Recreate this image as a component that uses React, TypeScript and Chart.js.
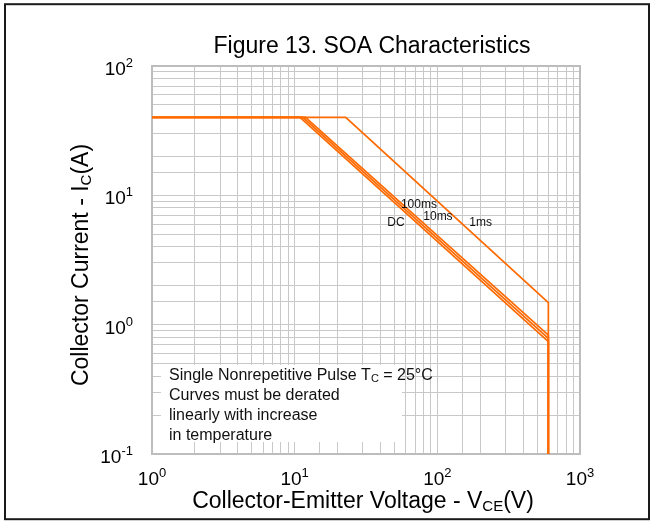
import React, { useEffect, useRef } from 'react';
import { Chart, registerables } from 'chart.js';

Chart.register(...registerables);

// ---- data ----
const CHART_TITLE = 'Figure 13. SOA Characteristics';
const X_TICK_EXPONENTS = [0, 1, 2, 3];
const Y_TICK_EXPONENTS = [-1, 0, 1, 2];
const SERIES_LABELS = ['DC', '100ms', '10ms', '1ms'];
const VCE_DC = [1, 10.9, 600, 600];
const IC_DC = [40, 40, 0.74, 0.1];
const VCE_100MS = [1, 11.4, 600, 600];
const IC_100MS = [40, 40, 0.785, 0.1];
const VCE_10MS = [1, 11.9, 600, 600];
const IC_10MS = [40, 40, 0.83, 0.1];
const VCE_1MS = [1, 22.8, 600, 600];
const IC_1MS = [40, 40, 1.48, 0.1];
const NOTE_LINES = [
  'Curves must be derated',
  'linearly with increase',
  'in temperature',
];

const FONT = '"Liberation Sans", Arial, Helvetica, sans-serif';
const ORANGE = '#ff6a00';

type Part = { t: string; sub?: boolean; sup?: boolean };

function richWidth(ctx: CanvasRenderingContext2D, parts: Part[], size: number, small: number) {
  let w = 0;
  for (const p of parts) {
    ctx.font = `${p.sub || p.sup ? small : size}px ${FONT}`;
    w += ctx.measureText(p.t).width;
  }
  return w;
}

function drawRich(
  ctx: CanvasRenderingContext2D,
  parts: Part[],
  x: number,
  y: number,
  align: 'left' | 'center' | 'right',
  size: number,
  small: number,
  raise: number,
  drop: number,
) {
  const w = richWidth(ctx, parts, size, small);
  let cx = align === 'left' ? x : align === 'center' ? x - w / 2 : x - w;
  ctx.textAlign = 'left';
  ctx.textBaseline = 'alphabetic';
  for (const p of parts) {
    ctx.font = `${p.sub || p.sup ? small : size}px ${FONT}`;
    const dy = p.sup ? -raise : p.sub ? drop : 0;
    ctx.fillText(p.t, cx, y + dy);
    cx += ctx.measureText(p.t).width;
  }
}

const labelAnchors: Record<string, [number, number]> = {
  DC: [51.3, 6.19],
  '100ms': [74.3, 8.43],
  '10ms': [101, 6.84],
  '1ms': [201, 6.15],
};

const decorPlugin = {
  id: 'decor',
  beforeDraw(chart: any) {
    const ctx: CanvasRenderingContext2D = chart.ctx;
    ctx.save();
    ctx.fillStyle = '#ffffff';
    ctx.fillRect(0, 0, chart.width, chart.height);
    ctx.strokeStyle = '#1a1a1a';
    ctx.lineWidth = 2;
    ctx.strokeRect(5, 4.2, 644, 515);
    ctx.restore();
  },
  beforeDatasetsDraw(chart: any) {
    const ctx: CanvasRenderingContext2D = chart.ctx;
    const { left, right, top, bottom } = chart.chartArea;
    ctx.save();
    // plot frame
    ctx.strokeStyle = '#bdbdbd';
    ctx.lineWidth = 2;
    ctx.strokeRect(left, top, right - left, bottom - top);
    // note box
    const bx0 = left + 9;
    const bx1 = left + 250;
    const by0 = top + 299;
    const by1 = top + 376;
    ctx.fillStyle = '#ffffff';
    ctx.fillRect(bx0, by0, bx1 - bx0, by1 - by0);
    ctx.fillStyle = '#111';
    const tx = left + 17;
    drawRich(
      ctx,
      [{ t: 'Single Nonrepetitive Pulse T' }, { t: 'C', sub: true }, { t: ' = 25°C' }],
      tx,
      top + 314,
      'left',
      16,
      11,
      0,
      2,
    );
    NOTE_LINES.forEach((line, i) => {
      ctx.font = `16px ${FONT}`;
      ctx.textAlign = 'left';
      ctx.textBaseline = 'alphabetic';
      ctx.fillText(line, tx, top + 334 + i * 20);
    });
    ctx.restore();
  },
  afterDatasetsDraw(chart: any) {
    const ctx: CanvasRenderingContext2D = chart.ctx;
    const { left, right, top, bottom } = chart.chartArea;
    const xs = chart.scales.x;
    const ys = chart.scales.y;
    ctx.save();
    ctx.fillStyle = '#111';
    // curve labels
    ctx.font = `12px ${FONT}`;
    ctx.textAlign = 'center';
    ctx.textBaseline = 'middle';
    SERIES_LABELS.forEach((name) => {
      const a = labelAnchors[name];
      ctx.fillText(name, xs.getPixelForValue(a[0]), ys.getPixelForValue(a[1]));
    });
    // title
    ctx.fillStyle = '#000';
    ctx.font = `23px ${FONT}`;
    ctx.textAlign = 'center';
    ctx.textBaseline = 'alphabetic';
    ctx.fillText(CHART_TITLE, (left + right) / 2 + 6, top - 13);
    // x tick labels
    X_TICK_EXPONENTS.forEach((e) => {
      const px = xs.getPixelForValue(Math.pow(10, e));
      drawRich(ctx, [{ t: '10' }, { t: e < 0 ? '-' + Math.abs(e) : String(e), sup: true }], px, bottom + 31, 'center', 19, 13, 8, 0);
    });
    // y tick labels
    Y_TICK_EXPONENTS.forEach((e) => {
      const py = ys.getPixelForValue(Math.pow(10, e));
      drawRich(ctx, [{ t: '10' }, { t: e < 0 ? '-' + Math.abs(e) : String(e), sup: true }], left - 19, py + 9, 'right', 19, 13, 8, 0);
    });
    // x axis title
    drawRich(
      ctx,
      [{ t: 'Collector-Emitter Voltage - V' }, { t: 'CE', sub: true }, { t: '(V)' }],
      (left + right) / 2 - 3,
      bottom + 54,
      'center',
      23,
      15,
      0,
      3,
    );
    // y axis title
    ctx.translate(88, (top + bottom) / 2 + 5);
    ctx.rotate(-Math.PI / 2);
    drawRich(
      ctx,
      [{ t: 'Collector Current - I' }, { t: 'C', sub: true }, { t: '(A)' }],
      0,
      0,
      'center',
      23,
      15,
      0,
      3,
    );
    ctx.restore();
  },
};

function toPoints(xs: number[], ys: number[]) {
  return xs.map((v, i) => ({ x: v, y: ys[i] }));
}

export default function App() {
  const ref = useRef<HTMLCanvasElement | null>(null);
  useEffect(() => {
    if (!ref.current) return;
    const series = [
      toPoints(VCE_DC, IC_DC),
      toPoints(VCE_100MS, IC_100MS),
      toPoints(VCE_10MS, IC_10MS),
      toPoints(VCE_1MS, IC_1MS),
    ];
    const gridCfg = { color: '#c8c8c8', lineWidth: 1, drawTicks: false };
    const chart = new Chart(ref.current, {
      type: 'scatter',
      data: {
        datasets: series.map((d, i) => ({
          label: SERIES_LABELS[i],
          data: d,
          showLine: true,
          borderColor: ORANGE,
          backgroundColor: ORANGE,
          borderWidth: 1.7,
          pointRadius: 0,
          tension: 0,
        })),
      },
      options: {
        animation: false,
        responsive: false,
        devicePixelRatio: 1,
        layout: { padding: { left: 152, top: 66, right: 74, bottom: 67 } },
        plugins: { legend: { display: false }, tooltip: { enabled: false }, title: { display: false } },
        scales: {
          x: {
            type: 'logarithmic',
            min: 1,
            max: 1000,
            ticks: { display: false, autoSkip: false },
            grid: gridCfg,
            border: { display: false },
            afterFit: (s: any) => {
              s.height = 0;
            },
          },
          y: {
            type: 'logarithmic',
            min: 0.1,
            max: 100,
            ticks: { display: false, autoSkip: false },
            grid: gridCfg,
            border: { display: false },
            afterFit: (s: any) => {
              s.width = 0;
            },
          },
        },
      } as any,
      plugins: [decorPlugin],
    });
    return () => chart.destroy();
  }, []);
  return (
    <div style={{ position: 'absolute', left: 0, top: 0, width: 654, height: 521 }}>
      <canvas ref={ref} width={654} height={521} style={{ display: 'block' }} />
    </div>
  );
}
